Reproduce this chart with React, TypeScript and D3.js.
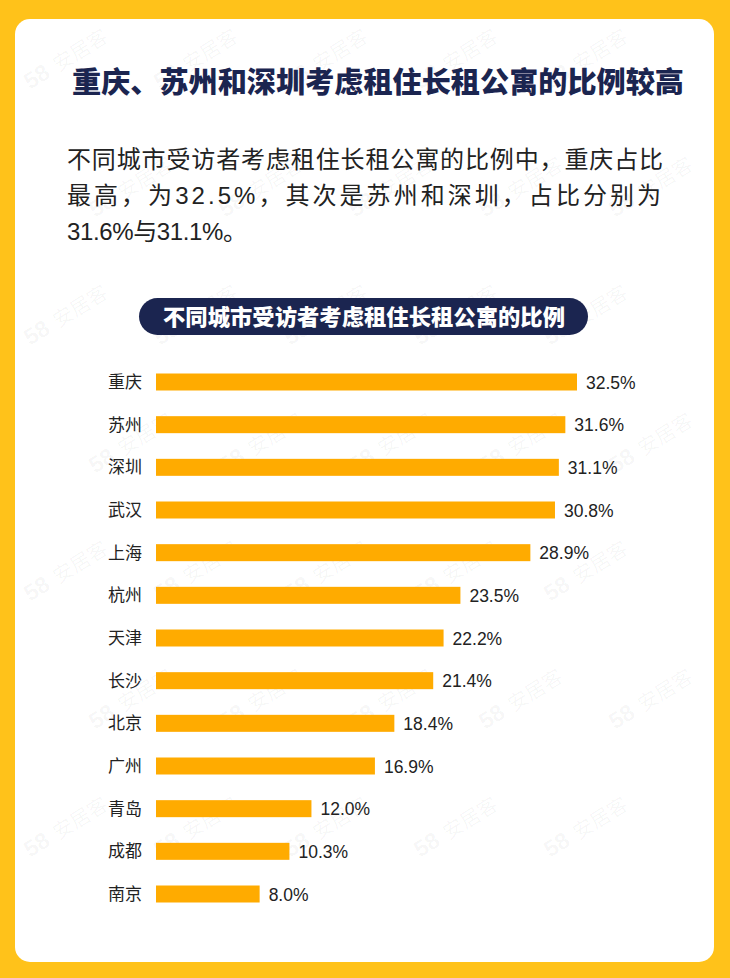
import { useRef, useEffect } from "react";
import * as d3 from "d3";

const CITIES = ["重庆", "苏州", "深圳", "武汉", "上海", "杭州", "天津", "长沙", "北京", "广州", "青岛", "成都", "南京"];
const SHARES = [32.5, 31.6, 31.1, 30.8, 28.9, 23.5, 22.2, 21.4, 18.4, 16.9, 12.0, 10.3, 8.0];

const TITLE = "重庆、苏州和深圳考虑租住长租公寓的比例较高";
const PARAGRAPH = [
  "不同城市受访者考虑租住长租公寓的比例中，重庆占比",
  "最高，为32.5%，其次是苏州和深圳，占比分别为",
  "31.6%与31.1%。",
];
const PARAGRAPH_WIDTHS = [596, 594, 180];
const CHART_TITLE = "不同城市受访者考虑租住长租公寓的比例";

const W = 730;
const H = 978;
const NAVY = "#1b2550";
const BAR = "#ffab00";
const BG = "#ffc21a";
const FONT = "'Liberation Sans', 'Noto Sans CJK SC', sans-serif";

export default function App() {
  const svgRef = useRef<SVGSVGElement>(null);

  useEffect(() => {
    if (!svgRef.current) return;
    const svg = d3.select(svgRef.current);
    svg.selectAll("*").remove();
    svg.attr("width", W).attr("height", H).style("font-family", FONT);

    // background + card
    svg.append("rect").attr("width", W).attr("height", H).attr("fill", BG);
    svg
      .append("rect")
      .attr("x", 15)
      .attr("y", 19)
      .attr("width", 699)
      .attr("height", 943)
      .attr("rx", 15)
      .attr("fill", "#fff");

    // watermark (only where it fits inside the page)
    const wm = svg.append("g").attr("pointer-events", "none");
    for (let r = 0; r < 8; r++) {
      for (let c = 0; c < 6; c++) {
        const x = c * 130 + (r % 2) * 65 + 30;
        const y = r * 128 + 90;
        if (x > W - 110 || y > H - 10) continue;
        const t = wm
          .append("text")
          .attr("transform", `translate(${x},${y}) rotate(-32)`)
          .attr("font-size", "20px")
          .attr("fill", "#000")
          .attr("fill-opacity", 0.04);
        t.append("tspan").attr("font-weight", "700").attr("font-size", "23px").text("58");
        t.append("tspan").attr("dx", 8).text("安居客");
      }
    }

    // title
    svg
      .append("text")
      .attr("x", 72)
      .attr("y", 93)
      .attr("font-size", "29px")
      .attr("font-weight", "900")
      .attr("fill", NAVY)
      .attr("textLength", 612)
      .attr("lengthAdjust", "spacingAndGlyphs")
      .text(TITLE);

    // paragraph
    PARAGRAPH.forEach((line, i) => {
      svg
        .append("text")
        .attr("x", 67)
        .attr("y", 168 + i * 36)
        .attr("font-size", "24px")
        .attr("fill", "#222")
        .attr("textLength", PARAGRAPH_WIDTHS[i])
        .attr("lengthAdjust", "spacing")
        .text(line);
    });

    // chart title pill
    svg
      .append("rect")
      .attr("x", 139)
      .attr("y", 298)
      .attr("width", 449)
      .attr("height", 37)
      .attr("rx", 18.5)
      .attr("fill", NAVY);
    svg
      .append("text")
      .attr("x", 163)
      .attr("y", 324.5)
      .attr("font-size", "22px")
      .attr("font-weight", "900")
      .attr("fill", "#fff")
      .attr("textLength", 402)
      .attr("lengthAdjust", "spacingAndGlyphs")
      .text(CHART_TITLE);

    // scales
    const x = d3.scaleLinear().domain([0, 32.5]).range([156, 577]);
    const y = d3.scalePoint<string>().domain(CITIES).range([382, 894]);
    const barH = 17;

    const data = CITIES.map((city, i) => ({ city, value: SHARES[i] }));
    const g = svg.append("g");

    g.selectAll(".bar")
      .data(data)
      .enter()
      .append("rect")
      .attr("class", "bar")
      .attr("x", x(0))
      .attr("y", (d) => (y(d.city) as number) - barH / 2)
      .attr("width", (d) => x(d.value) - x(0))
      .attr("height", barH)
      .attr("fill", BAR);

    g.selectAll(".cat")
      .data(data)
      .enter()
      .append("text")
      .attr("class", "cat")
      .attr("x", 142)
      .attr("y", (d) => (y(d.city) as number) + 6)
      .attr("text-anchor", "end")
      .attr("font-size", "17px")
      .attr("fill", "#222")
      .text((d) => d.city);

    g.selectAll(".val")
      .data(data)
      .enter()
      .append("text")
      .attr("class", "val")
      .attr("x", (d) => x(d.value) + 9)
      .attr("y", (d) => (y(d.city) as number) + 6.5)
      .attr("font-size", "17.5px")
      .attr("fill", "#222")
      .text((d) => `${d.value.toFixed(1)}%`);
  }, []);

  return (
    <div style={{ position: "absolute", left: 0, top: 0 }}>
      <svg ref={svgRef} />
    </div>
  );
}
